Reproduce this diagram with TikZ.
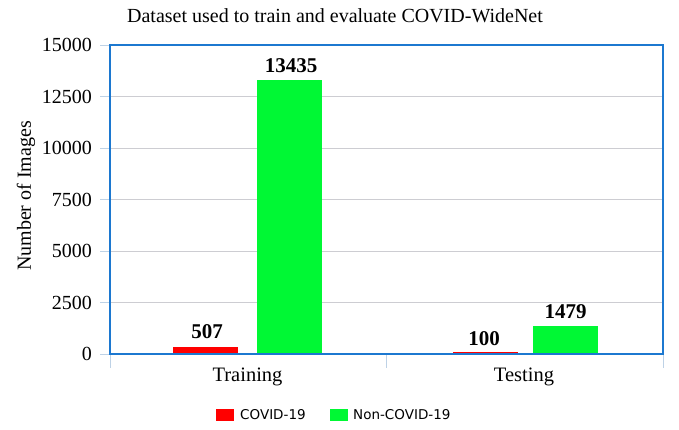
\documentclass[tikz,border=0pt]{standalone}
\usepackage{fontspec}
\setmainfont{Liberation Serif}
\newfontfamily\legfont{DejaVu Sans}
\definecolor{barred}{RGB}{255,0,0}
\definecolor{bargreen}{RGB}{0,248,52}
\definecolor{frameblue}{RGB}{28,120,208}
\definecolor{gridgray}{RGB}{205,205,210}
\definecolor{ticklb}{RGB}{190,210,230}
\begin{document}
\begin{tikzpicture}[x=1pt,y=-1pt,
  ticklab/.style={anchor=east,font=\fontsize{20}{20}\selectfont,inner sep=0pt},
  vallab/.style={anchor=base,font=\fontsize{21}{21}\selectfont\bfseries,inner sep=0pt},
  catlab/.style={anchor=center,font=\fontsize{20.5}{20.5}\selectfont,inner sep=0pt},
  legtext/.style={anchor=west,font=\legfont\fontsize{13.5}{13.5}\selectfont,inner sep=0pt}]
\useasboundingbox (0,0) rectangle (679,429);
% title
\node[font=\fontsize{20}{20}\selectfont,inner sep=0pt] (title) at (335,16) {Dataset used to train and evaluate COVID-WideNet};
% y label
\node[rotate=90,font=\fontsize{20}{20}\selectfont,inner sep=0pt] (ylab) at (26,196) {Number of Images};
% grid
\foreach \v/\t in {0/0,1/2500,2/5000,3/7500,4/10000,5/12500,6/15000}{
  \pgfmathsetmacro{\yy}{354-\v*51.5}
  \draw[gridgray,line width=0.8pt] (110,\yy) -- (663,\yy);
  \draw[ticklb,line width=0.8pt] (100,\yy) -- (110,\yy);
  \node[ticklab] (tick\v) at (92,\yy) {\t};
}
% category ticks
\foreach \xx in {110,386,663}{
  \draw[ticklb,line width=0.8pt] (\xx,354) -- (\xx,368);
}
% bars
\fill[barred] (173,346.5) rectangle (238,354);
\fill[bargreen] (257,79.5) rectangle (322,354);
\fill[barred] (453,352) rectangle (518,354);
\fill[bargreen] (533,325.5) rectangle (598,354);
% frame
\draw[frameblue,line width=1.8pt] (110,45) rectangle (663,354);
% value labels
\node[vallab] (v1) at (207,338) {507};
\node[vallab] (v2) at (291,72) {13435};
\node[vallab] (v3) at (484,345) {100};
\node[vallab] (v4) at (565.5,318) {1479};
% category labels
\node[catlab] (c1) at (247.5,377) {Training};
\node[catlab] (c2) at (524,377) {Testing};
% legend
\fill[barred] (216,409) rectangle (234,421);
\node[legtext] (l1) at (240,415) {COVID-19};
\fill[bargreen] (330,409) rectangle (348,421);
\node[legtext] (l2) at (353,415) {Non-COVID-19};
\end{tikzpicture}
\end{document}
